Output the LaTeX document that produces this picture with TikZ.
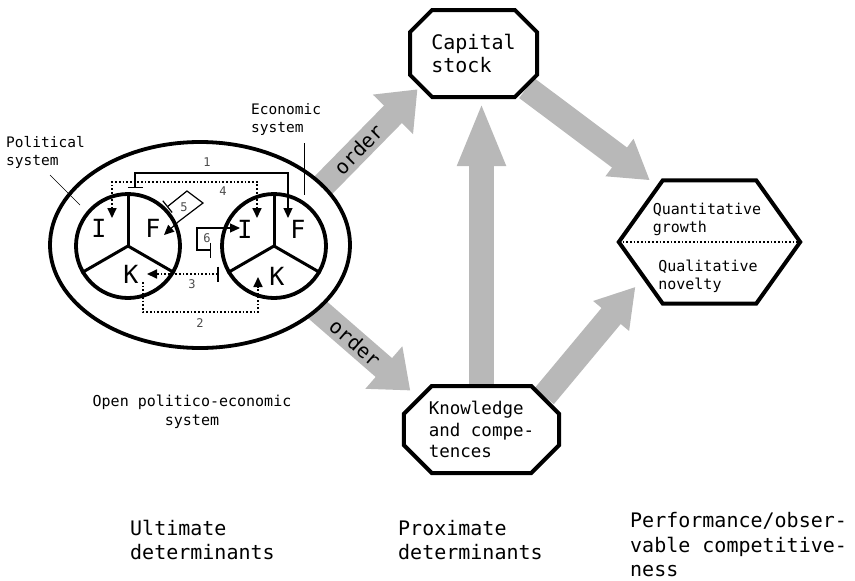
\documentclass[tikz,border=0pt]{standalone}
\usepackage{fontspec}
\newfontfamily\monofont{DejaVu Sans Mono}
\usetikzlibrary{arrows.meta}
\usetikzlibrary{shapes.geometric,shapes.misc}
\usetikzlibrary{backgrounds}
\colorlet{arrowgray}{black!28}

\begin{document}
\begin{tikzpicture}[x=1pt,y=-1pt,every node/.style={font=\monofont,inner sep=0pt},
    octa/.style={chamfered rectangle,chamfered rectangle xsep=25pt,draw,line width=4pt,fill=white,align=left,minimum width=127pt,minimum height=87pt},
    wheel/.style={circle,draw,line width=3.8pt,minimum size=104pt},
    letter/.style={font=\monofont\fontsize{25}{25}\selectfont},
    num/.style={font=\monofont\fontsize{12}{12}\selectfont,text=black!70},
    fat/.style={arrowgray,line width=25pt,-{Triangle[width=54pt,length=35pt]}},
    link/.style={line width=1.2pt},
    dotlink/.style={line width=1.7pt,dash pattern=on 1.7pt off 2pt},
    onehead/.style={-{Triangle[length=10pt,width=9pt]}},
    twoheads/.style={{Triangle[length=10pt,width=9pt]}-{Triangle[length=10pt,width=9pt]}},
    barred/.style={{Bar[width=15pt]}-{Triangle[length=10pt,width=9pt]}}]
    \useasboundingbox (0,0) rectangle (855,581);
    % determinants
    \node[octa,font=\monofont\fontsize{20}{23}\selectfont] (cap) at (473.5,53.5) {Capital\\stock};
    \node[octa,font=\monofont\fontsize{17.5}{21.5}\selectfont] (know) at (481.5,429.5) {Knowledge\\and compe-\\tences};
    \node[minimum width=181pt,minimum height=123pt] (perf) at (709.5,242) {};
    \node[ellipse,draw,line width=3.8pt,fill=white,minimum width=300pt,minimum height=206pt] (ell) at (200,245) {};
    \node[wheel] (lw) at (128,246) {};
    \node[wheel] (rw) at (274,246) {};
    % grey flows
    \begin{scope}[on background layer]
    \draw[fat,shorten <=-8pt,shorten >=3pt] (ell.26) -- (cap.212)
        node[pos=.36,sloped,text=black,font=\monofont\fontsize{20}{20}\selectfont] {order};
    \draw[fat,shorten <=-8pt,shorten >=10pt] (ell.-29) -- (know.153)
        node[pos=.37,sloped,text=black,font=\monofont\fontsize{20}{20}\selectfont] {order};
    \draw[fat,-{Triangle[width=44pt,length=64pt]},shorten >=3pt] (know.north) -- (know.north |- cap.south);
    \draw[fat,-{Triangle[width=44pt,length=38pt]}] (cap.-33) -- (perf.134);
    \draw[fat,-{Triangle[width=44pt,length=38pt]},shorten >=-22pt] (know.28) -- (perf.-145);
    \end{scope}
    % wheels
    \foreach \w in {lw,rw}
      \foreach \a in {90,210,330}
        \draw[line width=3pt] (\w.center) -- (\w.\a);
    \node[letter] (lI) at (99,228) {I};
    \node[letter] (lF) at (153,228) {F};
    \node[letter] (lK) at (131,274) {K};
    \node[letter] (rI) at (245,229) {I};
    \node[letter] (rF) at (298,229) {F};
    \node[letter] (rK) at (277,276) {K};
    % performance
    \draw[line width=4pt] (perf.west) -- ([xshift=44pt]perf.north west) -- ([xshift=-44pt]perf.north east)
        -- (perf.east) -- ([xshift=-44pt]perf.south east) -- ([xshift=44pt]perf.south west) -- cycle;
    \draw[dotlink] (perf.west) -- (perf.east);
    \node[align=left,font=\monofont\fontsize{15}{18}\selectfont] (quant) at (707,219) {Quantitative\\growth};
    \node[align=left,font=\monofont\fontsize{15}{18}\selectfont] (qual) at (708,276) {Qualitative\\novelty};
    % links between the systems
    \coordinate (c1a) at (135,188); \coordinate (c1b) at (288,218);
    \coordinate (c2a) at (143,282); \coordinate (c2b) at (258,277);
    \coordinate (c3a) at (219,274); \coordinate (c3b) at (147,274);
    \coordinate (c4a) at (112,218); \coordinate (c4b) at (257,218);
    \coordinate (c5a) at (167,207); \coordinate (c5b) at (164,235);
    \coordinate (c6a) at (211,250); \coordinate (c6b) at (240,228);
    \draw[link,barred] (c1a) -- ++(0,-15) -| (c1b);
    \draw[dotlink,onehead] (c2a) -- ++(0,30) -| (c2b);
    \draw[dotlink,barred] (c3a) -- (c3b);
    \draw[dotlink,twoheads] (c4a) -- ++(0,-36) -| (c4b);
    \draw[link,barred] (c5a) -- ++(20,-16) -- ++(16,12) -- ++(-25,19) -- (c5b);
    \draw[link,barred] (c6a) -- ++(-14,0) -- ++(0,-22) -- (c6b);
    \node[num] (n1) at (207,162) {1};
    \node[num] (n2) at (200,323) {2};
    \node[num] (n3) at (192,284) {3};
    \node[num] (n4) at (223,191) {4};
    \node[num] (n5) at (184,207) {5};
    \node[num] (n6) at (207,238) {6};
    % labels
    \node[align=left,anchor=west,font=\monofont\fontsize{14.5}{18}\selectfont] (pol) at (6,152) {Political\\system};
    \node[align=left,anchor=west,font=\monofont\fontsize{14.5}{18}\selectfont] (eco) at (251,119.5) {Economic\\system};
    \coordinate (polp) at (50,175); \coordinate (pole) at (80,205);
    \coordinate (ecop) at (304,143); \coordinate (ecoe) at (304,195);
    \draw[line width=.7pt] (polp) -- (pole);
    \draw[line width=.7pt] (ecop) -- (ecoe);
    \node[align=center,font=\monofont\fontsize{15}{19}\selectfont] (open) at (192,412) {Open politico-economic\\system};
    \node[align=left,anchor=west,font=\monofont\fontsize{20}{24.5}\selectfont] (ult) at (130,540) {Ultimate\\determinants};
    \node[align=left,anchor=west,font=\monofont\fontsize{20}{24.5}\selectfont] (prox) at (398,540) {Proximate\\determinants};
    \node[align=left,anchor=west,font=\monofont\fontsize{20}{24.5}\selectfont] (perfl) at (630,545) {Performance/obser-\\vable competitive-\\ness};
\end{tikzpicture}
\end{document}
